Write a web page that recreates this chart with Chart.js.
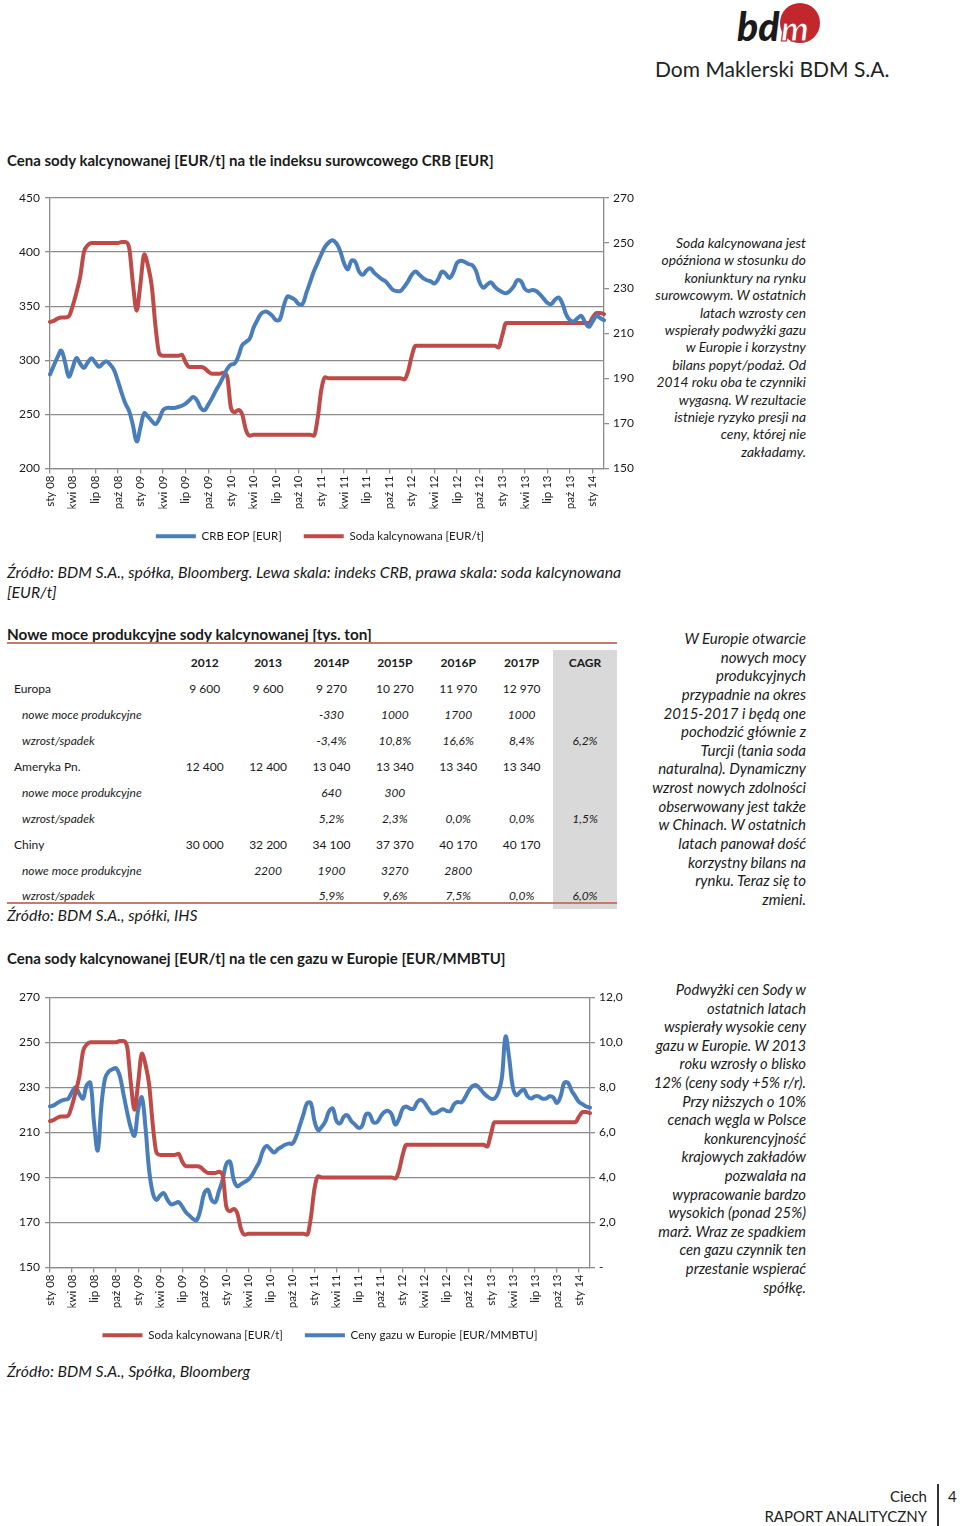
<!DOCTYPE html>
<html lang="pl">
<head>
<meta charset="utf-8">
<title>Ciech - soda kalcynowana</title>
<script src="https://cdn.jsdelivr.net/npm/chart.js@4/dist/chart.umd.min.js"></script>
<style>
  html, body { margin: 0; padding: 0; background: #fff; }
  body { width: 960px; height: 1526px; position: relative; overflow: hidden;
         font-family: Lato, "Open Sans", sans-serif; color: #1a1a1a; }
  .abs { position: absolute; }
  .title { font-weight: bold; font-size: 15px; line-height: 18px; left: 7px; white-space: nowrap; }
  .src { font-style: italic; font-size: 15.8px; line-height: 19.5px; left: 7px; }
  .note { font-style: italic; text-align: right; right: 154px; white-space: nowrap; }
  .chartbox { left: 0; width: 640px; }
  table.moce { border-collapse: collapse; font-size: 12px; table-layout: fixed; }
  table.moce td { height: 25.9px; padding: 0; text-align: center; white-space: nowrap; }
  table.moce td.lbl { text-align: left; padding-left: 7px; }
  table.moce tr.sub td { font-style: italic; }
  table.moce tr.sub td.lbl { padding-left: 15px; }
  table.moce tr.head td { font-weight: bold; }
  table.moce td.cagr { background: #d9d9d9; }
</style>
</head>
<body>

<!-- logo -->
<svg class="abs" style="left:730px;top:0" width="180" height="84">
  <circle cx="70" cy="23" r="20" fill="#c1272d"/>
  <text x="7" y="41" font-family="Lato" font-weight="900" font-style="italic" font-size="39" fill="#1a1a1a">bd</text>
  <text x="51" y="41" font-family="Lato" font-weight="900" font-style="italic" font-size="35" fill="#fff" stroke="#c1272d" stroke-width="1.2">m</text>
</svg>
<div class="abs" style="left:655px;top:56px;font-size:21px;color:#222;white-space:nowrap">Dom Maklerski BDM S.A.</div>

<div class="abs title" style="top:151px">Cena sody kalcynowanej [EUR/t] na tle indeksu surowcowego CRB [EUR]</div>
<div class="abs chartbox" style="top:185px;height:370px"><canvas id="crbChart"></canvas></div>
<div class="abs note" style="top:234px;font-size:13.8px;line-height:17.4px">Soda kalcynowana jest<br>opóźniona w stosunku do<br>koniunktury na rynku<br>surowcowym. W ostatnich<br>latach wzrosty cen<br>wspierały podwyżki gazu<br>w Europie i korzystny<br>bilans popyt/podaż. Od<br>2014 roku oba te czynniki<br>wygasną. W rezultacie<br>istnieje ryzyko presji na<br>ceny, której nie<br>zakładamy.</div>
<div class="abs src" style="top:562px;width:630px">Źródło: BDM S.A., spółka, Bloomberg. Lewa skala: indeks CRB, prawa skala: soda kalcynowana [EUR/t]</div>

<div class="abs title" style="top:625px;font-size:15.3px">Nowe moce produkcyjne sody kalcynowanej [tys. ton]</div>
<div class="abs" style="left:7px;top:642px;width:610px;height:2px;background:#c27b6c"></div>
<div class="abs" id="tableBox" style="left:7px;top:650px"></div>
<div class="abs" style="left:7px;top:902px;width:610px;height:2px;background:#c27b6c"></div>
<div class="abs src" style="top:905px">Źródło: BDM S.A., spółki, IHS</div>
<div class="abs note" style="top:629px;font-size:15px;line-height:18.64px">W Europie otwarcie<br>nowych mocy<br>produkcyjnych<br>przypadnie na okres<br>2015-2017 i będą one<br>pochodzić głównie z<br>Turcji (tania soda<br>naturalna). Dynamiczny<br>wzrost nowych zdolności<br>obserwowany jest także<br>w Chinach. W ostatnich<br>latach panował dość<br>korzystny bilans na<br>rynku. Teraz się to<br>zmieni.</div>

<div class="abs title" style="top:949px">Cena sody kalcynowanej [EUR/t] na tle cen gazu w Europie [EUR/MMBTU]</div>
<div class="abs chartbox" style="top:985px;height:370px"><canvas id="gasChart"></canvas></div>
<div class="abs note" style="top:980px;font-size:14.8px;line-height:18.6px">Podwyżki cen Sody w<br>ostatnich latach<br>wspierały wysokie ceny<br>gazu w Europie. W 2013<br>roku wzrosły o blisko<br>12% (ceny sody +5% r/r).<br>Przy niższych o 10%<br>cenach węgla w Polsce<br>konkurencyjność<br>krajowych zakładów<br>pozwalała na<br>wypracowanie bardzo<br>wysokich (ponad 25%)<br>marż. Wraz ze spadkiem<br>cen gazu czynnik ten<br>przestanie wspierać<br>spółkę.</div>
<div class="abs src" style="top:1361px">Źródło: BDM S.A., Spółka, Bloomberg</div>

<div class="abs" style="right:33px;top:1486px;font-size:15px;line-height:20px;text-align:right;color:#222">Ciech<br>RAPORT ANALITYCZNY</div>
<div class="abs" style="left:937px;top:1484px;width:1.5px;height:42px;background:#333"></div>
<div class="abs" style="left:948px;top:1486px;font-size:15px;line-height:20px;color:#222">4</div>

<script>
// half-month observations, sty 08 .. lut/mar 14
const crbEur = [
  287, 295, 303, 309, 298, 285, 293, 302, 297, 293, 298, 302,
  298, 294, 297, 299, 296, 291, 281, 270, 260, 253, 240, 225,
  238, 251, 248, 244, 241, 246, 254, 256, 256, 256, 257, 258,
  260, 263, 266, 263, 256, 254, 259, 265, 272, 278, 285, 292,
  296, 297, 304, 314, 317, 320, 330, 337, 343, 345, 344, 341,
  337, 338, 350, 359, 358, 356, 352, 352, 362, 372, 382, 390,
  398, 405, 409, 411, 408, 401, 390, 384, 392, 391, 382, 379,
  383, 385, 381, 378, 375, 373, 369, 365, 364, 364, 368, 373,
  379, 382, 379, 376, 374, 373, 371, 375, 382, 380, 376, 381,
  390, 392, 391, 389, 388, 383, 372, 367, 370, 372, 368, 365,
  363, 362, 364, 368, 374, 373, 366, 364, 365, 364, 361, 357,
  353, 352, 356, 358, 352, 342, 337, 336, 339, 341, 335, 331,
  336, 341, 339, 337
];
const sodaEurT = [
  215, 215.5, 216.5, 217, 217, 217.5, 222, 228, 235, 246, 249, 250,
  250, 250, 250, 250, 250, 250, 250, 250.5, 250.5, 248, 232, 220,
  232, 245, 240, 231, 213, 201, 200, 200, 200, 200, 200, 200.5,
  197, 195, 195, 195, 195, 194.5, 193, 192, 192, 192, 192.5, 191,
  177, 175, 176, 174, 167, 164.5, 165, 165, 165, 165, 165, 165,
  165, 165, 165, 165, 165, 165, 165, 165, 165, 165, 164.5, 172,
  185, 190.5, 190, 190, 190, 190, 190, 190, 190, 190, 190, 190,
  190, 190, 190, 190, 190, 190, 190, 190, 190, 190, 189.5, 193,
  200, 204.5, 204.5, 204.5, 204.5, 204.5, 204.5, 204.5, 204.5, 204.5, 204.5, 204.5,
  204.5, 204.5, 204.5, 204.5, 204.5, 204.5, 204.5, 204.5, 204.5, 204.5, 204.5, 203.7,
  209, 214.5, 214.5, 214.5, 214.5, 214.5, 214.5, 214.5, 214.5, 214.5, 214.5, 214.5,
  214.5, 214.5, 214.5, 214.5, 214.5, 214.5, 214.5, 214.5, 214.5, 214.5, 214.5, 214.5,
  217, 219, 219, 218.5
];
const gasEurMmbtu = [
  7.15, 7.2, 7.3, 7.4, 7.45, 7.5, 7.8, 8.0, 7.7, 7.5, 8.1, 8.2,
  6.4, 5.2, 7.2, 8.4, 8.7, 8.8, 8.85, 8.5, 7.7, 6.9, 6.2, 5.85,
  7.0, 7.55, 6.2, 4.3, 3.3, 3.0, 3.2, 3.3, 3.0, 2.8, 2.85, 2.9,
  2.7, 2.45, 2.3, 2.15, 2.12, 2.6, 3.3, 3.45, 3.0, 2.9, 3.4, 3.9,
  4.6, 4.7, 3.9, 3.6, 3.7, 3.8, 3.9, 4.1, 4.4, 4.7, 5.2, 5.4,
  5.25, 5.1, 5.25, 5.35, 5.45, 5.5, 5.5, 5.8, 6.3, 6.8, 7.3, 7.3,
  6.5, 6.1, 6.25, 6.5, 6.95, 7.05, 6.5, 6.4, 6.7, 6.75, 6.5, 6.35,
  6.2, 6.3, 6.8, 6.8, 6.45, 6.45, 6.7, 6.9, 6.95, 6.8, 6.35, 6.6,
  7.05, 7.15, 7.05, 7.05, 7.35, 7.45, 7.3, 7.05, 6.85, 6.85, 6.95, 7.03,
  6.95, 6.95, 7.25, 7.35, 7.33, 7.55, 7.85, 8.05, 8.1, 7.95, 7.75, 7.6,
  7.5, 7.5, 7.75, 8.4, 10.25, 9.3, 8.0, 7.65, 7.8, 7.9, 7.6, 7.5,
  7.6, 7.6, 7.5, 7.5, 7.6, 7.55, 7.3, 7.6, 8.2, 8.2, 7.85, 7.6,
  7.35, 7.25, 7.15, 7.1
];
const monthNames = ['sty', 'lut', 'mar', 'kwi', 'maj', 'cze', 'lip', 'sie', 'wrz', 'paź', 'lis', 'gru'];
const yearNames = ['08', '09', '10', '11', '12', '13', '14'];

// table data
const tableYears = ['2012', '2013', '2014P', '2015P', '2016P', '2017P', 'CAGR'];
const tableRows = [
  ['Europa', '9 600', '9 600', '9 270', '10 270', '11 970', '12 970', ''],
  ['nowe moce produkcyjne', '', '', '-330', '1000', '1700', '1000', ''],
  ['wzrost/spadek', '', '', '-3,4%', '10,8%', '16,6%', '8,4%', '6,2%'],
  ['Ameryka Pn.', '12 400', '12 400', '13 040', '13 340', '13 340', '13 340', ''],
  ['nowe moce produkcyjne', '', '', '640', '300', '', '', ''],
  ['wzrost/spadek', '', '', '5,2%', '2,3%', '0,0%', '0,0%', '1,5%'],
  ['Chiny', '30 000', '32 200', '34 100', '37 370', '40 170', '40 170', ''],
  ['nowe moce produkcyjne', '', '2200', '1900', '3270', '2800', '', ''],
  ['wzrost/spadek', '', '', '5,9%', '9,6%', '7,5%', '0,0%', '6,0%']
];

const BLUE = '#4a7ebb';
const RED = '#be4b48';
const GRID = '#8c8c8c';

// labels, one per half month
const periods = [];
yearNames.forEach(function (y) {
  monthNames.forEach(function (m) {
    periods.push(m + ' ' + y);
    periods.push('');
  });
});
periods.length = crbEur.length;

Chart.defaults.font.family = 'Lato';
Chart.defaults.color = '#1a1a1a';

function xAxis(h) {
  return {
    type: 'category',
    offset: false,
    grid: {
      drawOnChartArea: false,
      tickLength: 5,
      tickColor: function (c) { return c.index % 6 === 0 ? GRID : 'transparent'; },
      lineWidth: 1.3
    },
    border: { color: GRID, width: 1.3 },
    ticks: {
      autoSkip: false,
      minRotation: 90,
      maxRotation: 90,
      padding: 2,
      font: { size: 11.5 },
      callback: function (v, i) { return i % 6 === 0 ? this.getLabelForValue(v) : ''; }
    },
    afterFit: function (s) { s.height = h; }
  };
}

function yAxis(pos, min, max, step, width, fmt) {
  const left = pos === 'left';
  return {
    position: pos,
    min: min,
    max: max,
    grid: {
      drawOnChartArea: left,
      color: GRID,
      lineWidth: 1.3,
      tickLength: 5,
      tickColor: GRID
    },
    border: { color: GRID, width: 1.3 },
    ticks: {
      stepSize: step,
      padding: left ? 5 : 4,
      font: { size: 12 },
      callback: fmt
    },
    afterFit: function (s) { s.width = width; }
  };
}

function legendOpts() {
  return {
    position: 'bottom',
    labels: {
      usePointStyle: true,
      pointStyle: 'line',
      pointStyleWidth: 40,
      padding: 22,
      font: { size: 11.5 },
      color: '#1a1a1a'
    }
  };
}

function lineSet(label, data, color, axis, smooth) {
  return {
    label: label,
    data: data,
    yAxisID: axis,
    borderColor: color,
    backgroundColor: color,
    borderWidth: 4,
    borderCapStyle: 'round',
    borderJoinStyle: 'round',
    pointRadius: 0,
    tension: smooth ? 0.4 : 0,
    cubicInterpolationMode: smooth ? 'default' : 'monotone'
  };
}

const ctx1 = document.getElementById('crbChart').getContext('2d');
new Chart(ctx1, {
  type: 'line',
  data: {
    labels: periods,
    datasets: [
      lineSet('CRB EOP [EUR]', crbEur, BLUE, 'yL', true),
      lineSet('Soda kalcynowana [EUR/t]', sodaEurT, RED, 'yR', false)
    ]
  },
  options: {
    responsive: true,
    maintainAspectRatio: false,
    animation: false,
    layout: { padding: { top: 13, left: 0, right: 0, bottom: 3 } },
    plugins: { legend: legendOpts(), tooltip: { enabled: false } },
    scales: {
      x: xAxis(40),
      yL: yAxis('left', 200, 450, 50, 50),
      yR: yAxis('right', 150, 270, 20, 36)
    }
  }
});

const ctx2 = document.getElementById('gasChart').getContext('2d');
new Chart(ctx2, {
  type: 'line',
  data: {
    labels: periods,
    datasets: [
      lineSet('Soda kalcynowana [EUR/t]', sodaEurT, RED, 'yL', false),
      lineSet('Ceny gazu w Europie [EUR/MMBTU]', gasEurMmbtu, BLUE, 'yR', true)
    ]
  },
  options: {
    responsive: true,
    maintainAspectRatio: false,
    animation: false,
    layout: { padding: { top: 11, left: 0, right: 0, bottom: 4 } },
    plugins: { legend: legendOpts(), tooltip: { enabled: false } },
    scales: {
      x: xAxis(40),
      yL: yAxis('left', 150, 270, 20, 50),
      yR: yAxis('right', 0, 12, 2, 50, function (v) {
        return v === 0 ? '-' : v.toFixed(1).replace('.', ',');
      })
    }
  }
});

// table
const colW = [166, 63.4, 63.4, 63.4, 63.4, 63.4, 63.4, 63.4];
let html = '<table class="moce"><colgroup>';
colW.forEach(function (w) { html += '<col style="width:' + w + 'px">'; });
html += '</colgroup><tr class="head"><td></td>';
tableYears.forEach(function (y, i) {
  html += '<td' + (i === 6 ? ' class="cagr"' : '') + '>' + y + '</td>';
});
html += '</tr>';
tableRows.forEach(function (r, ri) {
  html += '<tr' + (ri % 3 === 0 ? '' : ' class="sub"') + '>';
  r.forEach(function (c, ci) {
    const cls = ci === 0 ? 'lbl' : (ci === 7 ? 'cagr' : '');
    html += '<td' + (cls ? ' class="' + cls + '"' : '') + '>' + c + '</td>';
  });
  html += '</tr>';
});
html += '</table>';
document.getElementById('tableBox').innerHTML = html;
</script>
</body>
</html>
